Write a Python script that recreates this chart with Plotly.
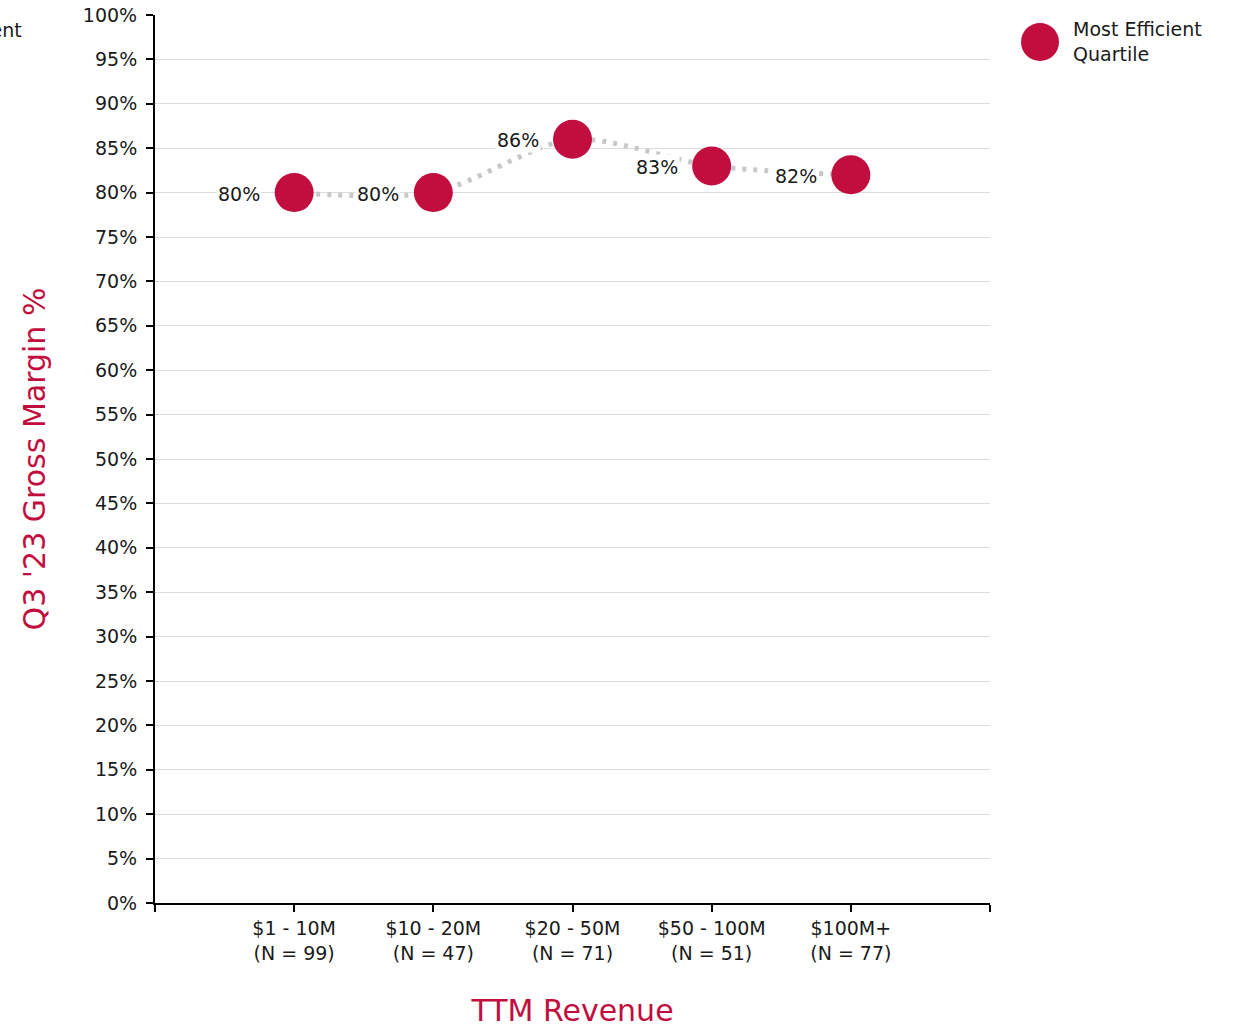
import plotly.graph_objects as go

# Revenue bands and their sample sizes
bands = ["$1 - 10M", "$10 - 20M", "$20 - 50M", "$50 - 100M", "$100M+"]
counts = [99, 47, 71, 51, 77]
# Gross margin of the most efficient quartile, in percent
margin_pct = [80, 80, 86, 83, 82]

y_ticks = list(range(0, 101, 5))

CRIMSON = "#c20e3e"
FONT = "DejaVu Sans"
TEXT = "#1a1a1a"

positions = list(range(1, len(bands) + 1))
tick_text = [""] + [f"{b}<br>(N = {n})" for b, n in zip(bands, counts)] + [""]

fig = go.Figure()

# dotted connector between the quartile points
fig.add_trace(go.Scatter(
    x=positions, y=margin_pct, mode="lines",
    line=dict(color="#c8c8c8", width=5, dash="4px,7px", shape="spline", smoothing=0.8),
    hoverinfo="skip", showlegend=False,
))

fig.add_trace(go.Scatter(
    x=positions, y=margin_pct, mode="markers",
    marker=dict(color=CRIMSON, size=39, line=dict(width=0)),
    name="Most Efficient Quartile", showlegend=False, cliponaxis=False,
))

# value labels to the left of each point
for xp, v in zip(positions, margin_pct):
    fig.add_annotation(
        x=xp, y=v, xref="x", yref="y", text=f"{v}%", showarrow=False,
        xanchor="right", yanchor="middle", xshift=-32, yshift=-1,
        bgcolor="white", borderpad=1,
        font=dict(family=FONT, size=19, color=TEXT),
    )

# legend entry drawn as a circle plus caption
fig.add_shape(
    type="circle", xref="paper", yref="paper",
    xsizemode="pixel", ysizemode="pixel",
    xanchor=(1040 - 155) / 835, yanchor=(903 - 42) / 888,
    x0=-19, x1=19, y0=-19, y1=19,
    fillcolor=CRIMSON, line=dict(width=0),
)
fig.add_annotation(
    xref="paper", yref="paper", x=(1071 - 155) / 835, y=(903 - 42) / 888,
    text="Most Efficient<br>Quartile", showarrow=False, align="left",
    xanchor="left", yanchor="middle",
    font=dict(family=FONT, size=19, color=TEXT),
)
fig.add_annotation(
    xref="paper", yref="paper", x=(24 - 155) / 835, y=(903 - 30) / 888,
    text="Most Efficient", showarrow=False,
    xanchor="right", yanchor="middle",
    font=dict(family=FONT, size=19, color=TEXT),
)

fig.update_layout(
    width=1233, height=1028,
    margin=dict(l=155, r=243, t=15, b=125),
    paper_bgcolor="white", plot_bgcolor="white",
    font=dict(family=FONT, size=19, color=TEXT),
    showlegend=False,
)

fig.update_xaxes(
    range=[0, 6], tickvals=list(range(0, 7)), ticktext=tick_text,
    showgrid=False, zeroline=False, automargin=False,
    showline=True, linecolor="black", linewidth=2,
    ticks="outside", ticklen=7, tickwidth=2, tickcolor="black",
    tickfont=dict(family=FONT, size=19, color=TEXT),
    title=dict(text="TTM Revenue", font=dict(family=FONT, size=30, color=CRIMSON), standoff=48),
)

fig.update_yaxes(
    range=[0, 100], tickvals=y_ticks, ticktext=[f"{t}%" for t in y_ticks],
    showgrid=True, gridcolor="#dcdcdc", gridwidth=1, zeroline=False, automargin=False,
    showline=True, linecolor="black", linewidth=2,
    ticks="outside", ticklen=7, tickwidth=2, tickcolor="black",
    ticklabelstandoff=5,
    tickfont=dict(family=FONT, size=19, color=TEXT),
    title=dict(text="Q3 '23 Gross Margin %", font=dict(family=FONT, size=30, color=CRIMSON), standoff=28),
)

fig.write_html("out.html")
